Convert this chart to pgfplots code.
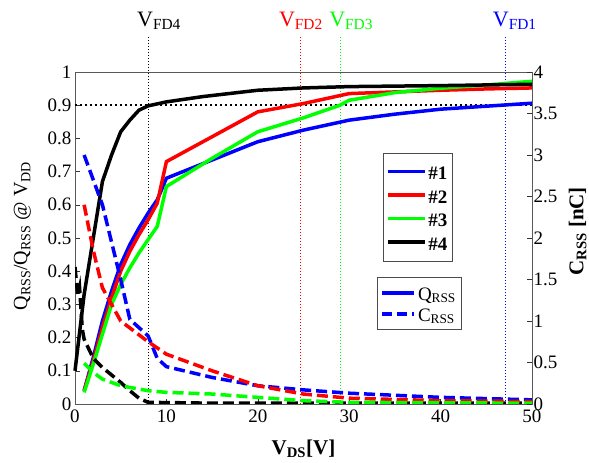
\documentclass[border=0pt]{standalone}
\usepackage{fontspec}
\setmainfont{Liberation Serif}
\usepackage{pgfplots}
\pgfplotsset{compat=1.18}
\definecolor{cB}{RGB}{0,0,255}
\definecolor{cR}{RGB}{255,0,0}
\definecolor{cG}{RGB}{0,255,0}
\newcommand{\strA}{\rule[-6pt]{0pt}{24pt}}
\newcommand{\strB}{\rule[-7.5pt]{0pt}{23pt}}
\begin{document}
\begin{tikzpicture}
\useasboundingbox (-75pt,-59pt) rectangle (514pt,404pt);
\begin{axis}[
  scale only axis, width=457pt, height=332pt,
  xmin=0, xmax=50, ymin=0, ymax=1,
  xtick={0,10,20,30,40,50},
  ytick={0,0.1,0.2,0.3,0.4,0.5,0.6,0.7,0.8,0.9,1},
  xtick pos=lower, ytick pos=left,
  tick align=inside, major tick length=5pt,
  /pgf/number format/assume math mode=true,
  tick label style={font=\fontsize{19}{22}\selectfont},
  xticklabel style={yshift=-2pt},
  axis line style={black!65},
  tick style={black!80, thin},
  clip=false,
  xlabel={\textbf{V\textsubscript{DS}[V]}},
  xlabel style={at={(axis description cs:0.5,-0.135)}, anchor=center, font=\fontsize{21}{24}\selectfont},
  ylabel={Q\textsubscript{RSS}/Q\textsubscript{RSS} @ V\textsubscript{DD}},
  ylabel style={at={(axis description cs:-0.115,0.506)}, anchor=center, font=\fontsize{20}{24}\selectfont},
  legend style={at={(0.673,0.757)}, anchor=north west, font=\fontsize{19}{22}\selectfont, draw=black!70, inner xsep=3pt, inner ysep=7pt},
  legend cell align=left,
  legend image code/.code={\draw[#1] (0pt,0pt) -- (37pt,0pt);},
]
% reference lines
\addplot[black, line width=1.8pt, dash pattern=on 1.8pt off 3.2pt, forget plot] coordinates {(0,0.9) (50,0.9)};
\addplot[black, line width=1pt, dotted, forget plot] coordinates {(8,0) (8,1.11)};
\addplot[cR, line width=1pt, dotted, forget plot] coordinates {(24.7,0) (24.7,1.11)};
\addplot[cG, line width=1pt, dotted, forget plot] coordinates {(29,0) (29,1.11)};
\addplot[cB, line width=1pt, dotted, forget plot] coordinates {(47.1,0) (47.1,1.11)};
% Q_RSS curves
\addplot[cB, line width=3.5pt] coordinates {(1,0.04) (2,0.14) (3,0.25) (4,0.34) (5,0.42) (6,0.48) (7,0.53) (8,0.575) (9,0.615) (10,0.68) (15,0.735) (20,0.79) (25,0.825) (30,0.855) (35,0.873) (40,0.888) (45,0.897) (50,0.906)};
\addlegendentry{\strA\textbf{\#1}}
\addplot[cR, line width=3.5pt] coordinates {(1,0.04) (2,0.13) (3,0.23) (4,0.32) (5,0.40) (6,0.46) (7,0.51) (8,0.555) (9,0.605) (10,0.73) (15,0.805) (20,0.88) (25,0.905) (30,0.935) (35,0.94) (40,0.945) (45,0.949) (50,0.952)};
\addlegendentry{\strA\textbf{\#2}}
\addplot[cG, line width=3.5pt] coordinates {(1,0.035) (2,0.12) (3,0.21) (4,0.30) (5,0.36) (6,0.41) (7,0.455) (8,0.495) (9,0.535) (10,0.655) (15,0.74) (20,0.82) (25,0.862) (29,0.9) (30,0.915) (35,0.938) (40,0.951) (45,0.961) (50,0.972)};
\addlegendentry{\strA\textbf{\#3}}
\addplot[black, line width=3.5pt] coordinates {(0,0.1) (1,0.33) (2,0.5) (3,0.67) (4,0.75) (5,0.82) (6,0.855) (7,0.885) (8,0.898) (10,0.91) (14,0.926) (20,0.945) (25,0.952) (30,0.956) (40,0.959) (50,0.963)};
\addlegendentry{\strA\textbf{\#4}}
% labels
\node[anchor=base west, inner sep=0pt, font=\fontsize{22}{24}\selectfont, text=black] at (axis cs:6.78,1.1377) {V\textsubscript{FD4}};
\node[anchor=base west, inner sep=0pt, font=\fontsize{22}{24}\selectfont, text=cR] at (axis cs:22.3,1.1377) {V\textsubscript{FD2}};
\node[anchor=base west, inner sep=0pt, font=\fontsize{22}{24}\selectfont, text=cG] at (axis cs:27.8,1.1377) {V\textsubscript{FD3}};
\node[anchor=base west, inner sep=0pt, font=\fontsize{22}{24}\selectfont, text=cB] at (axis cs:45.7,1.1377) {V\textsubscript{FD1}};
\end{axis}
\begin{axis}[
  scale only axis, width=457pt, height=332pt,
  xmin=0, xmax=50, ymin=0, ymax=4,
  axis x line=none, axis y line*=right,
  ytick={0,0.5,1,1.5,2,2.5,3,3.5,4},
  tick align=inside, major tick length=5pt,
  /pgf/number format/assume math mode=true,
  tick label style={font=\fontsize{19}{22}\selectfont},
  yticklabel style={xshift=-2pt},
  axis line style={black!65},
  tick style={black!80, thin},
  ylabel={\textbf{C\textsubscript{RSS} [nC]}},
  ylabel style={at={(axis description cs:1.10,0.52)}, anchor=center, font=\fontsize{21}{24}\selectfont},
  legend style={at={(0.6615,0.3816)}, anchor=north west, font=\fontsize{19}{22}\selectfont, draw=black!70, inner xsep=3pt, inner ysep=5pt},
  legend cell align=left,
  legend image code/.code={\draw[#1] (0pt,0pt) -- (32pt,0pt);},
]
\addlegendimage{cB, line width=3.5pt}
\addlegendentry{\strB Q\textsubscript{RSS}}
\addlegendimage{cB, line width=3.5pt, dash pattern=on 10pt off 5pt}
\addlegendentry{\strB C\textsubscript{RSS}}
\addplot[black, line width=3.5pt, dash pattern=on 11pt off 5pt, forget plot] coordinates {(0,1.65) (0.3,1.3) (0.5,1.4) (0.8,0.9) (1,0.78) (2,0.55) (3,0.44) (5,0.26) (6,0.16) (7,0.07) (8,0.02) (15,0.01) (50,0.01)};
\addplot[cB, line width=3.5pt, dash pattern=on 11pt off 5pt, forget plot] coordinates {(1,3.0) (3,2.4) (5,1.5) (6,1.02) (8,0.82) (9,0.55) (10,0.45) (15,0.32) (20,0.22) (25,0.17) (30,0.13) (40,0.08) (50,0.05)};
\addplot[cR, line width=3.5pt, dash pattern=on 11pt off 5pt, forget plot] coordinates {(1,2.4) (2,1.85) (3,1.4) (5,1.0) (8,0.75) (10,0.6) (15,0.4) (20,0.22) (25,0.12) (30,0.07) (40,0.04) (50,0.03)};
\addplot[cG, line width=3.5pt, dash pattern=on 11pt off 5pt, forget plot] coordinates {(1,0.49) (2,0.38) (3,0.3) (5,0.22) (8,0.16) (10,0.14) (15,0.12) (20,0.08) (25,0.04) (30,0.02) (50,0.01)};
\end{axis}
\end{tikzpicture}
\end{document}
